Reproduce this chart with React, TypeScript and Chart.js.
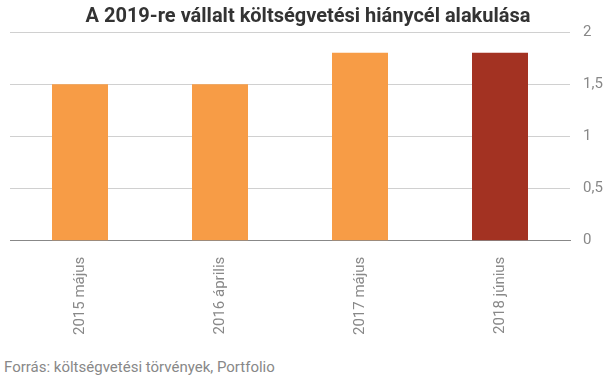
import React, { useEffect, useRef } from "react";
import { Chart, registerables } from "chart.js";

Chart.register(...registerables);

const categories = ["2015 május", "2016 április", "2017 május", "2018 június"];
const values = [1.5, 1.5, 1.8, 1.8];
const barColors = ["#F79C46", "#F79C46", "#F79C46", "#A33222"];
const titleText = "A 2019-re vállalt költségvetési hiánycél alakulása";
const sourceText = "Forrás: költségvetési törvények, Portfolio";

export default function App() {
  const ref = useRef<HTMLCanvasElement>(null);
  useEffect(() => {
    document.body.style.margin = "0";
    const ctx = ref.current!;
    const chart = new Chart(ctx, {
      type: "bar",
      data: {
        labels: categories,
        datasets: [
          {
            data: values,
            backgroundColor: barColors,
            categoryPercentage: 1,
            barPercentage: 0.4,
          },
        ],
      },
      options: {
        animation: false,
        responsive: false,
        maintainAspectRatio: false,
        layout: { padding: { left: 10, right: 0, top: 0, bottom: 0 } },
        plugins: {
          legend: { display: false },
          tooltip: { enabled: false },
          title: {
            display: true,
            text: titleText,
            color: "#333333",
            font: { family: "Roboto", size: 20, weight: "bold" },
            padding: { top: 5, bottom: 3 },
          },
        },
        scales: {
          x: {
            grid: { display: false },
            border: { color: "#888888", width: 1 },
            ticks: {
              color: "#888888",
              font: { family: "Roboto", size: 15 },
              minRotation: 90,
              maxRotation: 90,
              padding: 8,
            },
          },
          y: {
            position: "right",
            min: 0,
            max: 2,
            border: { display: false },
            afterFit: (s: any) => {
              s.width = 36;
            },
            grid: {
              color: (c: any) => (c.tick && c.tick.value === 0 ? "#888888" : "#D0D0D0"),
              drawTicks: false,
            },
            ticks: {
              stepSize: 0.5,
              color: "#888888",
              font: { family: "Roboto", size: 15 },
              padding: 13,
              callback: (v: any) => String(v).replace(".", ","),
            },
          },
        },
      },
    });
    return () => chart.destroy();
  }, []);
  return (
    <div style={{ position: "relative", width: 606, height: 379, background: "#fff" }}>
      <canvas ref={ref} width={606} height={343} style={{ display: "block" }} />
      <div
        style={{
          position: "absolute",
          left: 4,
          top: 358,
          fontFamily: "Roboto",
          fontSize: 15,
          color: "#888888",
          lineHeight: "18px",
        }}
      >
        {sourceText}
      </div>
    </div>
  );
}
